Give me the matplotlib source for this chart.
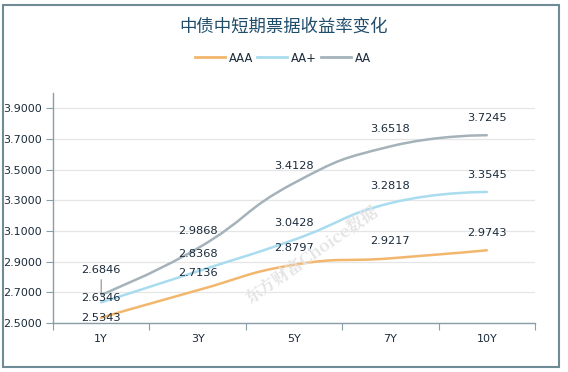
import matplotlib.pyplot as plt
import numpy as np
from matplotlib.path import Path
from matplotlib.patches import PathPatch, Rectangle
from matplotlib.lines import Line2D

plt.rcParams['font.family'] = ['Noto Sans CJK SC', 'DejaVu Sans']

categories = ['1Y', '3Y', '5Y', '7Y', '10Y']
aaa = [2.5343, 2.7136, 2.8797, 2.9217, 2.9743]
aa_plus = [2.6346, 2.8368, 3.0428, 3.2818, 3.3545]
aa = [2.6846, 2.9868, 3.4128, 3.6518, 3.7245]
series_names = ['AAA', 'AA+', 'AA']
yticks = [2.5, 2.7, 2.9, 3.1, 3.3, 3.5, 3.7, 3.9]

colors = ['#f2b66d', '#a9dcef', '#a4b3ba']
text_color = '#1b2b3b'
axis_color = '#8a9ea8'


def smooth_path(ax, xs, ys, smooth=0.5):
    # echarts style bezier smoothing, done in pixel space
    pts = ax.transData.transform(np.column_stack([xs, ys]))
    verts = [pts[0]]
    codes = [Path.MOVETO]
    cp0 = pts[0]
    n = len(pts)
    for k in range(1, n):
        p = pts[k]
        if k == n - 1:
            cp1 = p
            next_cp0 = p
        else:
            prev, nxt = pts[k - 1], pts[k + 1]
            v = nxt - prev
            l0 = np.hypot(*(p - prev))
            l1 = np.hypot(*(nxt - p))
            r = l1 / (l0 + l1)
            cp1 = p - v * smooth * (1 - r)
            next_cp0 = p + v * smooth * r
        verts += [cp0, cp1, p]
        codes += [Path.CURVE4] * 3
        cp0 = next_cp0
    verts = ax.transData.inverted().transform(np.array(verts))
    return Path(verts, codes)


fig = plt.figure(figsize=(5.68, 3.72), dpi=100)
ax = fig.add_axes([53 / 568, 49 / 372, 482 / 568, 230 / 372])

x = np.arange(len(categories))
ax.set_xlim(-0.5, len(categories) - 0.5)
ax.set_ylim(2.5, 4.0)

all_series = [aaa, aa_plus, aa]
# label offsets in pixels above the point (1Y labels pushed apart)
label_offsets = [
    [0, 17, 17, 17, 17],
    [4, 17, 17, 17, 17],
    [25, 17, 17, 17, 17],
]
for vals, col, offs in zip(all_series, colors, label_offsets):
    path = smooth_path(ax, x, vals)
    ax.add_patch(PathPatch(path, facecolor='none', edgecolor=col, lw=1.8,
                           zorder=3, capstyle='round'))
    for xi, v, o in zip(x, vals, offs):
        ax.annotate(f'{v:.4f}', (xi, v), xytext=(0, o), textcoords='offset pixels',
                    ha='center', va='center', fontsize=8.2, color=text_color,
                    family=['DejaVu Sans'], zorder=5)

# guide line for the shifted 1Y AA label
ax.annotate('', (0, aa[0]), xytext=(0, 15), textcoords='offset pixels',
            arrowprops=dict(arrowstyle='-', color='#8a8f94', lw=0.8,
                            shrinkA=0, shrinkB=0))

ax.set_xticks(np.arange(-0.5, len(categories), 1.0))
ax.set_xticklabels([])
ax.set_xticks(x, minor=True)
ax.set_xticklabels(categories, minor=True, fontsize=8, color=text_color,
                   family=['DejaVu Sans'])
ax.tick_params(axis='x', which='major', length=5, color=axis_color, direction='out')
ax.tick_params(axis='x', which='minor', length=0, pad=8)

ax.set_yticks(yticks)
ax.set_yticklabels([f'{t:.4f}' for t in yticks], fontsize=8, color=text_color,
                   family=['DejaVu Sans'])
ax.tick_params(axis='y', length=5, color=axis_color, pad=3)

ax.grid(axis='y', color='#e6e6e6', lw=0.9, zorder=0)
ax.set_axisbelow(True)
for s in ['top', 'right']:
    ax.spines[s].set_visible(False)
for s in ['left', 'bottom']:
    ax.spines[s].set_color(axis_color)
    ax.spines[s].set_linewidth(1.0)

# watermark
fig.text(312 / 568, 1 - 255 / 372, '东方财富Choice数据', rotation=35, ha='center',
         va='center', fontsize=12, fontweight='bold', color='#e4e4e4',
         family=['Noto Serif CJK SC', 'Noto Sans CJK SC', 'DejaVu Serif'], zorder=1)

fig.text(0.5, 1 - 27 / 372, '中债中短期票据收益率变化', ha='center', va='center',
         fontsize=12.5, color='#1f4d6a')

handles = [Line2D([], [], color=c, lw=2) for c in colors]
fig.legend(handles, series_names, loc='center', bbox_to_anchor=(283 / 568, 1 - 58 / 372),
           ncol=3, frameon=False, handlelength=2.6, handletextpad=0.35,
           columnspacing=0.35, labelcolor=text_color,
           prop={'family': 'DejaVu Sans', 'size': 8.3})

fig.patches.append(Rectangle((3 / 568, 5 / 372), 556 / 568, 362 / 372,
                             transform=fig.transFigure, fill=False,
                             edgecolor='#6f8c96', lw=1.5))

fig.savefig('out.png', dpi=100)
